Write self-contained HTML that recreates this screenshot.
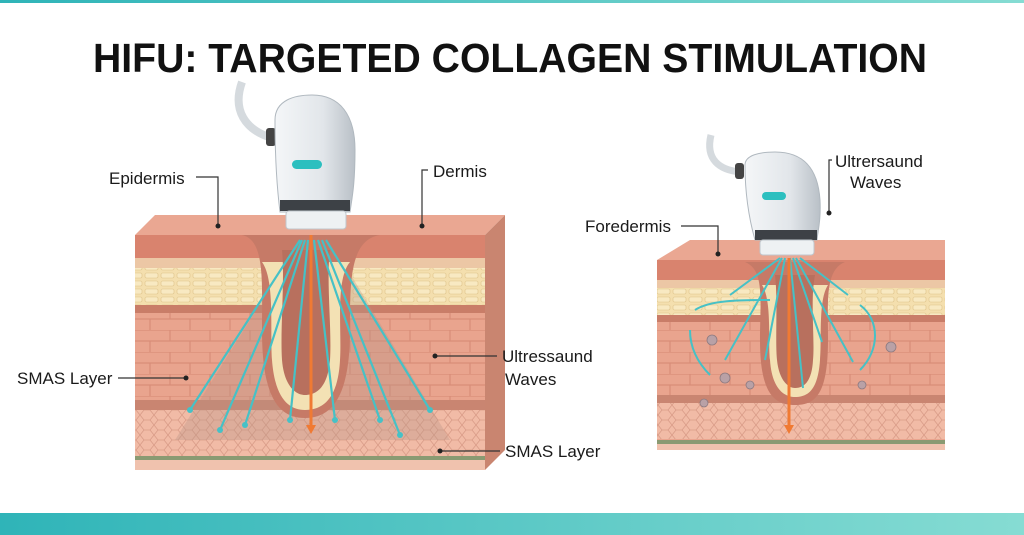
<!DOCTYPE html>
<html><head><meta charset="utf-8"><style>
html,body{margin:0;padding:0;background:#fff;}
svg{display:block}
text{font-family:"Liberation Sans",sans-serif;fill:#1a1a1a}
</style></head><body>
<svg width="1024" height="535" viewBox="0 0 1024 535" xmlns="http://www.w3.org/2000/svg">
<defs>
<linearGradient id="band" x1="0" x2="1"><stop offset="0" stop-color="#2fb4b8"/><stop offset="1" stop-color="#86dcd3"/></linearGradient>
<linearGradient id="probe" x1="0" x2="1"><stop offset="0" stop-color="#f4f6f8"/><stop offset="0.6" stop-color="#e2e6ea"/><stop offset="1" stop-color="#b9c0c7"/></linearGradient>
<pattern id="brick" width="40" height="22" patternUnits="userSpaceOnUse"><rect width="40" height="22" fill="#e9a48e"/><path d="M0 0H40M0 11H40M10 0V11M30 11V22" stroke="#d98d78" stroke-width="1.2"/></pattern>
<pattern id="fat" width="16" height="8" patternUnits="userSpaceOnUse"><rect width="16" height="8" fill="#f4dfae"/><rect x="1" y="1" width="13" height="5" rx="1.5" fill="#f8e9c2" stroke="#dfc48a" stroke-width="0.6"/></pattern>
<pattern id="cell" width="14" height="10" patternUnits="userSpaceOnUse"><rect width="14" height="10" fill="#f1bba6"/><path d="M0 5L4 0H10L14 5L10 10H4Z" fill="none" stroke="#d99c88" stroke-width="0.8"/></pattern>
</defs>
<rect x="0" y="0" width="1024" height="3" fill="url(#band)"/>
<rect x="0" y="513" width="1024" height="22" fill="url(#band)"/>
<text x="510" y="72" text-anchor="middle" font-size="41" font-weight="bold" textLength="834" lengthAdjust="spacingAndGlyphs" style="fill:#111">HIFU: TARGETED COLLAGEN STIMULATION</text>

<!-- LEFT BLOCK -->
<g>
<polygon points="135,235 155,215 505,215 485,235" fill="#eaa792"/>
<polygon points="485,235 505,215 505,450 485,470" fill="#c98570"/>
<rect x="135" y="235" width="350" height="235" fill="#e9a48e"/>
<rect x="135" y="235" width="350" height="23" fill="#d9836e"/>
<rect x="135" y="258" width="350" height="10" fill="#ecc7a5"/>
<rect x="135" y="268" width="350" height="37" fill="url(#fat)"/>
<rect x="135" y="305" width="350" height="8" fill="#c97d68"/>
<rect x="135" y="313" width="350" height="88" fill="url(#brick)"/>
<rect x="135" y="400" width="350" height="10" fill="#c98571"/>
<rect x="135" y="410" width="350" height="46" fill="url(#cell)"/>
<rect x="135" y="456" width="350" height="4" fill="#8a9a72"/>
<rect x="135" y="460" width="350" height="10" fill="#f0c2ae"/>
<polygon points="300,240 175,440 450,440 330,240" fill="#b89486" opacity="0.35"/>
<path d="M242 235 C265 240 262 280 262 330 C262 400 280 418 305 418 C330 418 350 400 350 330 C350 280 350 240 380 235 Z" fill="#c67a67"/>
<path d="M262 262 C275 280 270 330 272 360 C275 400 290 410 305 410 C322 410 338 400 340 360 C342 330 335 280 350 262 Z" fill="#f3e1b4"/>
<path d="M282 250 C285 280 280 330 282 360 C284 385 295 395 305 395 C318 395 328 385 330 360 C332 330 326 280 330 250 Z" fill="#b8705e"/>
<g stroke="#46c1c6" stroke-width="2.2" fill="none">
<path d="M300 240L190 410M302 240L220 430M305 240L245 425M308 240L290 420M314 240L335 420M318 240L380 420M322 240L400 435M326 240L430 410"/>
</g>
<g fill="#46c1c6"><circle cx="190" cy="410" r="3"/><circle cx="220" cy="430" r="3"/><circle cx="245" cy="425" r="3"/><circle cx="290" cy="420" r="3"/><circle cx="335" cy="420" r="3"/><circle cx="380" cy="420" r="3"/><circle cx="400" cy="435" r="3"/><circle cx="430" cy="410" r="3"/></g>
<path d="M311 235V428" stroke="#f07a33" stroke-width="3"/>
<polygon points="306,425 316,425 311,434" fill="#f07a33"/>
</g>
<!-- left probe -->
<path d="M242 82 C232 110 245 130 272 138" stroke="#d5dade" stroke-width="8" fill="none"/>
<rect x="266" y="128" width="10" height="18" rx="3" fill="#444"/>
<path d="M275 120 C275 100 295 95 312 95 C340 95 355 115 355 150 C355 185 352 198 350 212 L280 212 C276 180 275 150 275 120Z" fill="url(#probe)" stroke="#b0b8bf"/>
<rect x="292" y="160" width="30" height="9" rx="4.5" fill="#2cbfbf"/>
<rect x="280" y="200" width="70" height="11" fill="#3d4146"/>
<rect x="286" y="211" width="60" height="18" rx="3" fill="#eef1f3" stroke="#c0c6cc"/>

<!-- RIGHT BLOCK -->
<g>
<polygon points="657,260 690,240 945,240 945,260" fill="#eaa792"/>
<rect x="657" y="260" width="288" height="190" fill="#e9a48e"/>
<rect x="657" y="260" width="288" height="20" fill="#d9836e"/>
<rect x="657" y="280" width="288" height="8" fill="#ecc7a5"/>
<rect x="657" y="288" width="288" height="27" fill="url(#fat)"/>
<rect x="657" y="315" width="288" height="7" fill="#c97d68"/>
<rect x="657" y="322" width="288" height="73" fill="url(#brick)"/>
<rect x="657" y="395" width="288" height="8" fill="#c98571"/>
<rect x="657" y="403" width="288" height="36" fill="url(#cell)"/>
<rect x="657" y="440" width="288" height="4" fill="#8a9a72"/>
<rect x="657" y="444" width="288" height="6" fill="#f0c2ae"/>
<path d="M745 262 C765 270 760 300 760 340 C760 395 775 405 795 405 C815 405 828 395 828 340 C828 300 825 270 845 262Z" fill="#c67a67"/>
<path d="M762 285 C772 300 768 340 770 360 C772 390 785 397 795 397 C808 397 818 390 820 360 C822 340 818 300 828 285Z" fill="#f3e1b4"/>
<path d="M775 275 C778 300 775 340 777 360 C779 380 788 388 795 388 C805 388 812 380 813 360 C815 340 810 300 815 275Z" fill="#b8705e"/>
<g stroke="#46c1c6" stroke-width="2" fill="none">
<path d="M780 258L730 295M782 258L725 360M785 258L765 360M790 258L803 388M793 258L822 342M796 258L853 362M800 258L848 295M770 300C740 300 710 300 695 310M860 305C880 320 880 350 860 370M690 330C690 350 700 365 710 375"/>
</g>
<path d="M789 258V428" stroke="#f07a33" stroke-width="3"/>
<polygon points="784,425 794,425 789,434" fill="#f07a33"/>
<g fill="#b9a1a6" stroke="#8d7a80" stroke-width="0.8"><circle cx="712" cy="340" r="5"/><circle cx="725" cy="378" r="5"/><circle cx="750" cy="385" r="4"/><circle cx="891" cy="347" r="5"/><circle cx="862" cy="385" r="4"/><circle cx="704" cy="403" r="4"/></g>
</g>
<!-- right probe -->
<path d="M711 135 C705 160 720 170 740 172" stroke="#d5dade" stroke-width="7" fill="none"/>
<rect x="735" y="163" width="9" height="16" rx="3" fill="#444"/>
<path d="M745 165 C745 155 760 152 775 152 C805 152 818 170 820 200 C821 220 818 230 817 240 L755 240 C748 215 745 190 745 165Z" fill="url(#probe)" stroke="#b0b8bf"/>
<rect x="762" y="192" width="24" height="8" rx="4" fill="#2cbfbf"/>
<rect x="755" y="230" width="62" height="10" fill="#3d4146"/>
<rect x="760" y="240" width="54" height="15" rx="3" fill="#eef1f3" stroke="#c0c6cc"/>

<!-- labels -->
<g stroke="#333" stroke-width="1.2" fill="none">
<path d="M196 177H218V225"/><path d="M428 170H422V225"/><path d="M118 378H186"/><path d="M435 356H497"/><path d="M440 451H500"/>
<path d="M681 226H718V255"/><path d="M832 160H829V213"/>
</g>
<g fill="#222"><circle cx="218" cy="226" r="2.5"/><circle cx="422" cy="226" r="2.5"/><circle cx="186" cy="378" r="2.5"/><circle cx="435" cy="356" r="2.5"/><circle cx="440" cy="451" r="2.5"/><circle cx="718" cy="254" r="2.5"/><circle cx="829" cy="213" r="2.5"/></g>
<g font-size="17">
<text x="109" y="184">Epidermis</text>
<text x="433" y="177">Dermis</text>
<text x="17" y="384">SMAS Layer</text>
<text x="502" y="362">Ultressaund</text>
<text x="505" y="385">Waves</text>
<text x="505" y="457">SMAS Layer</text>
<text x="585" y="232">Foredermis</text>
<text x="835" y="167">Ultrersaund</text>
<text x="850" y="188">Waves</text>
</g>
</svg>
</body></html>
